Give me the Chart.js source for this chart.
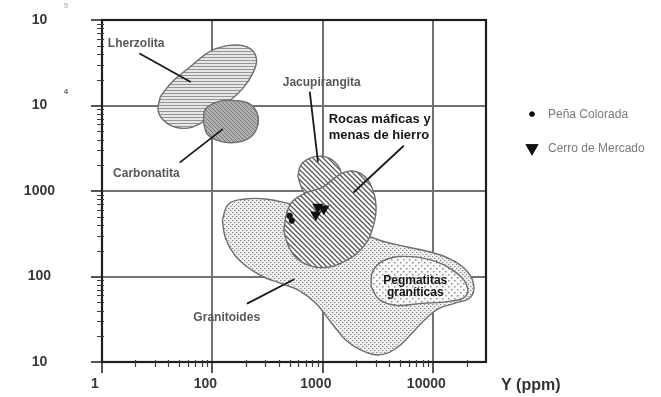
<!DOCTYPE html>
<html>
<head>
<meta charset="utf-8">
<script src="https://cdn.jsdelivr.net/npm/chart.js@4/dist/chart.umd.min.js"></script>
<style>
  html, body { margin: 0; padding: 0; background: #fff; }
  #wrap { width: 661px; height: 397px; }
</style>
</head>
<body>
<div id="wrap"><canvas id="c" width="661" height="397"></canvas></div>
<script>
// ---- axes ----
const xTickValues = [10, 100, 1000, 10000];
const xTickLabels = ['1', '100', '1000', '10000'];
const yTickValues = [10, 100, 1000, 10000, 100000];
const yTickLabels = ['10', '100', '1000', '10', '10'];
const yTickSup    = ['', '', '', '4', '5'];
const xAxisTitle = 'Y (ppm)';

// ---- compositional fields (outline vertices, ppm) ----
const lherzolitaX = [33.7, 43.3, 63, 82.8, 106, 162, 221, 251, 231, 191, 152, 106, 78, 54.5, 39, 32.3];
const lherzolitaY = [12700, 19000, 28400, 38100, 46000, 51200, 46000, 34300, 23600, 16200, 12100, 8510, 6180, 5400, 6180, 8510];

const carbonatitaX = [83, 86, 113, 162, 221, 256, 256, 221, 165, 118, 90];
const carbonatitaY = [6340, 8980, 11100, 11400, 10300, 7860, 5700, 4250, 3710, 3810, 4600];

const jacupirangitaX = [593, 631, 762, 979, 1259, 1459, 1428, 1158, 863, 672];
const jacupirangitaY = [1494, 2006, 2420, 2550, 2233, 1663, 1143, 875, 807, 973];

const maficasX = [442, 471, 534, 700, 1000, 1313, 1723, 2311, 2788, 3033, 2849, 2360, 1618, 1000, 658, 501];
const maficasY = [343, 555, 765, 948, 1113, 1455, 1709, 1535, 1084, 669, 381, 229, 153, 127, 145, 212];

const granitoidesX = [123, 140, 200, 303, 461, 1183, 2215, 3367, 5683, 9200, 13970, 19140, 23100, 21700, 15520, 10870, 8280, 6310, 4610, 3230, 2215, 1618, 1183, 863, 605, 415, 285, 204, 158, 131];
const granitoidesY = [460, 706, 807, 807, 725, 512, 325, 262, 223, 195, 162, 124, 83, 57, 48.5, 41.3, 30.8, 21.2, 14.5, 12.1, 13.8, 18, 29.2, 48.5, 68.7, 83, 100, 131, 180, 284];

const pegmatitasX = [2730, 2849, 3740, 6310, 10640, 15200, 19950, 19540, 13970, 7780, 4610, 3230];
const pegmatitasY = [76.5, 117, 158, 171, 149, 117, 80.7, 58.5, 51.2, 48.5, 46, 54];

// ---- samples ----
const penaColoradaX = [501, 523];
const penaColoradaY = [512, 448];
const cerroMercadoX = [901, 1021, 863];
const cerroMercadoY = [651, 618, 526];

// ---- field names with leader lines (anchor / leader ends in ppm) ----
const fieldNotes = [
  { lines: ['Lherzolita'], at: [11.3, 52600], leader: [[22.1, 40300], [63, 19000]], dark: false },
  { lines: ['Carbonatita'], at: [12.6, 1578], leader: [[51.2, 2175], [123, 5260]], dark: false },
  { lines: ['Jacupirangita'], at: [433, 18500], leader: [[762, 14200], [901, 2233]], dark: false },
  { lines: ['Rocas máficas y', 'menas de hierro'], at: [1130, 6900], leader: [[5340, 3340], [1914, 973]], dark: true, lh: 16 },
  { lines: ['Granitoides'], at: [67.2, 33.4], leader: [[208, 48.5], [545, 92.3]], dark: false },
  { lines: ['Pegmatitas', 'graníticas'], at: [6860, 90], dark: true, center: true, lh: 12 }
];

// ---- fill patterns ----
function tile(w, h, bg, paint) {
  const c = document.createElement('canvas');
  c.width = w; c.height = h;
  const g = c.getContext('2d');
  g.fillStyle = bg; g.fillRect(0, 0, w, h);
  paint(g);
  return g.createPattern(c, 'repeat');
}
function diagonal(s, bg, ink, lw) {
  return tile(s, s, bg, g => {
    g.strokeStyle = ink; g.lineWidth = lw; g.beginPath();
    for (const o of [-s, 0, s]) { g.moveTo(o - 1, -1); g.lineTo(o + s + 1, s + 1); }
    g.stroke();
  });
}
const patHorizontal = tile(3, 3, '#e6e6e6', g => { g.fillStyle = '#959595'; g.fillRect(0, 0, 3, 1); });
const patCarbon = diagonal(4, '#b0b0b0', '#7c7c7c', 1);
const patJacu = diagonal(5, '#ffffff', '#5a5a5a', 1.3);
const patMafic = diagonal(5, '#ffffff', '#555555', 1.3);
const patGranite = tile(4, 4, '#efefef', g => {
  g.fillStyle = '#8a8a8a'; g.fillRect(0, 0, 1, 1); g.fillRect(2, 2, 1, 1);
  g.fillStyle = '#cdcdcd'; g.fillRect(1, 0, 1, 1); g.fillRect(3, 2, 1, 1);
});
const patPegma = tile(6, 6, '#f8f8f8', g => {
  g.fillStyle = '#8f8f8f'; g.fillRect(1, 1, 1.5, 1.5); g.fillRect(4, 4, 1.5, 1.5);
});

function closedPath(xs, ys) {
  const pts = xs.map((x, i) => ({ x, y: ys[i] }));
  pts.push({ ...pts[0] });
  return pts;
}
function field(label, xs, ys, pattern, order) {
  return {
    type: 'line', label, data: closedPath(xs, ys), order,
    fill: 'shape', backgroundColor: pattern,
    borderColor: '#6e6e6e', borderWidth: 1.4, tension: 0.42,
    pointRadius: 0, pointHoverRadius: 0
  };
}

function logTicks(min, max) {
  const out = [];
  for (let d = 1; d <= max; d *= 10) {
    for (let m = 1; m <= 9; m++) {
      const v = m * d;
      if (v >= min && v <= max) out.push({ value: v, major: m === 1 });
    }
  }
  return out;
}
const isMajor = v => xTickValues.includes(v) || yTickValues.includes(v);
const noPad = s => { s.paddingTop = 0; s.paddingBottom = 0; s.paddingLeft = 0; s.paddingRight = 0; };

Chart.defaults.font.family = '"Liberation Sans", Arial, sans-serif';

const decor = {
  id: 'decor',
  afterDatasetsDraw(chart) {
    const { ctx, chartArea: a, scales: { x, y } } = chart;
    ctx.save();
    // plot frame
    ctx.strokeStyle = '#1e1e1e'; ctx.lineWidth = 2.2;
    ctx.strokeRect(a.left, a.top, a.right - a.left, a.bottom - a.top);
    // leader lines
    ctx.strokeStyle = '#1a1a1a'; ctx.lineWidth = 1.8; ctx.lineCap = 'round';
    for (const n of fieldNotes) {
      if (!n.leader) continue;
      ctx.beginPath();
      ctx.moveTo(x.getPixelForValue(n.leader[0][0]), y.getPixelForValue(n.leader[0][1]));
      ctx.lineTo(x.getPixelForValue(n.leader[1][0]), y.getPixelForValue(n.leader[1][1]));
      ctx.stroke();
    }
    // field names
    ctx.textBaseline = 'middle';
    for (const n of fieldNotes) {
      ctx.font = n.dark ? 'bold 13px "Liberation Sans", Arial, sans-serif' : 'bold 12px "Liberation Sans", Arial, sans-serif';
      if (n.center) ctx.font = 'bold 12px "Liberation Sans", Arial, sans-serif';
      ctx.fillStyle = n.dark ? '#151515' : '#585858';
      ctx.textAlign = n.center ? 'center' : 'left';
      const px = x.getPixelForValue(n.at[0]);
      const py = y.getPixelForValue(n.at[1]);
      n.lines.forEach((t, i) => ctx.fillText(t, px, py + i * (n.lh || 14)));
    }
    ctx.restore();
  },
  afterDraw(chart) {
    const { ctx, chartArea: a, scales: { x, y } } = chart;
    ctx.save();
    // minor log ticks
    ctx.strokeStyle = '#3c3c3c'; ctx.lineWidth = 1.2;
    ctx.beginPath();
    for (const t of x.ticks) {
      if (isMajor(t.value) || t.value >= x.max) continue;
      const px = Math.round(x.getPixelForValue(t.value)) + 0.5;
      ctx.moveTo(px, a.bottom - 2); ctx.lineTo(px, a.bottom + 5);
    }
    for (const t of y.ticks) {
      if (isMajor(t.value)) continue;
      const py = Math.round(y.getPixelForValue(t.value)) + 0.5;
      ctx.moveTo(a.left - 5, py); ctx.lineTo(a.left + 2, py);
    }
    ctx.stroke();
    // exponent marks on the y labels
    ctx.font = 'bold 8px "Liberation Sans", Arial, sans-serif';
    ctx.textAlign = 'center'; ctx.textBaseline = 'middle';
    yTickValues.forEach((v, i) => {
      if (!yTickSup[i]) return;
      ctx.fillStyle = i === yTickValues.length - 1 ? '#c4c4c4' : '#666';
      ctx.fillText(yTickSup[i], 66, y.getPixelForValue(v) - 14);
    });
    // axis title
    ctx.font = 'bold 16px "Liberation Sans", Arial, sans-serif';
    ctx.fillStyle = '#333'; ctx.textAlign = 'left';
    ctx.fillText(xAxisTitle, a.right + 15, a.bottom + 24);
    // legend for the sample symbols
    const rows = chart.data.datasets.filter(d => d.type === 'scatter');
    ctx.font = '12px "Liberation Sans", Arial, sans-serif';
    rows.forEach((d, i) => {
      const cy = a.top + 94 + i * 34;
      const cx = a.right + 46;
      ctx.fillStyle = d.backgroundColor; ctx.strokeStyle = d.backgroundColor;
      Chart.helpers.drawPoint(ctx, {
        pointStyle: d.pointStyle, rotation: d.rotation || 0,
        radius: d.legendRadius, borderWidth: 0
      }, cx, cy);
      ctx.fill();
      ctx.fillStyle = '#7a7a7a';
      ctx.fillText(d.label, cx + 16, cy + 1);
    });
    ctx.restore();
  }
};

const datasets = [
  {
    type: 'scatter', label: 'Peña Colorada',
    data: penaColoradaX.map((v, i) => ({ x: v, y: penaColoradaY[i] })),
    pointStyle: 'circle', pointRadius: 3, backgroundColor: '#111', borderWidth: 0,
    legendRadius: 2.6, order: 0
  },
  {
    type: 'scatter', label: 'Cerro de Mercado',
    data: cerroMercadoX.map((v, i) => ({ x: v, y: cerroMercadoY[i] })),
    pointStyle: 'triangle', rotation: 180, pointRadius: 6.5, backgroundColor: '#111', borderWidth: 0,
    legendRadius: 7.5, order: 0
  },
  field('Jacupirangita', jacupirangitaX, jacupirangitaY, patJacu, 3),
  field('Rocas máficas y menas de hierro', maficasX, maficasY, patMafic, 2),
  field('Pegmatitas graníticas', pegmatitasX, pegmatitasY, patPegma, 4),
  field('Granitoides', granitoidesX, granitoidesY, patGranite, 5),
  field('Carbonatita', carbonatitaX, carbonatitaY, patCarbon, 6),
  field('Lherzolita', lherzolitaX, lherzolitaY, patHorizontal, 7)
];

new Chart(document.getElementById('c'), {
  type: 'scatter',
  data: { datasets },
  options: {
    responsive: false, animation: false, devicePixelRatio: 1,
    layout: { padding: { left: 0, right: 175, top: 20, bottom: 0 } },
    plugins: { legend: { display: false }, tooltip: { enabled: false } },
    events: [],
    scales: {
      x: {
        type: 'logarithmic', position: 'bottom', min: 10, max: 30000,
        afterBuildTicks: s => { s.ticks = logTicks(10, 30000); },
        afterFit: s => { s.height = 35; noPad(s); },
        border: { display: false },
        grid: {
          color: c => isMajor(c.tick.value) && c.tick.value < 30000 ? '#727272' : 'rgba(0,0,0,0)',
          lineWidth: 2, tickLength: 11, tickWidth: 2,
          tickColor: c => xTickValues.includes(c.tick.value) ? '#555' : 'rgba(0,0,0,0)'
        },
        ticks: {
          autoSkip: false, maxRotation: 0, padding: 3, labelOffset: -7,
          color: '#383838', font: { size: 14, weight: 'bold' },
          callback: v => { const i = xTickValues.indexOf(v); return i >= 0 ? xTickLabels[i] : ''; }
        }
      },
      y: {
        type: 'logarithmic', position: 'left', min: 10, max: 100000,
        afterBuildTicks: s => { s.ticks = logTicks(10, 100000); },
        afterFit: s => { s.width = 102; noPad(s); },
        border: { display: false },
        grid: {
          color: c => yTickValues.includes(c.tick.value) ? '#727272' : 'rgba(0,0,0,0)',
          lineWidth: 2, tickLength: 11, tickWidth: 2,
          tickColor: c => yTickValues.includes(c.tick.value) ? '#555' : 'rgba(0,0,0,0)'
        },
        ticks: {
          autoSkip: false, crossAlign: 'center', padding: 36,
          color: '#383838', font: { size: 14, weight: 'bold' },
          callback: v => { const i = yTickValues.indexOf(v); return i >= 0 ? yTickLabels[i] : ''; }
        }
      }
    }
  },
  plugins: [decor]
});
</script>
</body>
</html>
